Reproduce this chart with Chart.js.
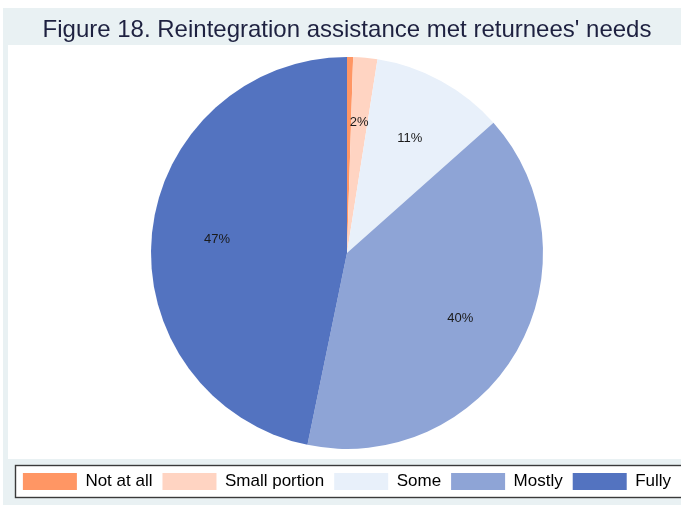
<!DOCTYPE html>
<html>
<head>
<meta charset="utf-8">
<script src="https://cdn.jsdelivr.net/npm/chart.js@4"></script>
<style>
  html, body { margin: 0; padding: 0; background: #fff; overflow: hidden; width: 681px; height: 505px; }
  #wrap { width: 720px; height: 505px; position: relative; }
</style>
</head>
<body>
<div id="wrap"><canvas id="chartCanvas"></canvas></div>
<script>
const categories = ['Not at all', 'Small portion', 'Some', 'Mostly', 'Fully'];
const shares = [0.5, 2, 11, 40, 47];
const sliceColors = ['#ff9664', '#ffd4c2', '#e8f0fa', '#8ea4d6', '#5373c0'];
const titleText = "Figure 18. Reintegration assistance met returnees' needs";

// panel backgrounds and the legend frame, drawn under everything else
const framePlugin = {
    id: 'frame',
    beforeDraw(chart) {
        const ctx = chart.ctx;
        const w = chart.width, h = chart.height;
        ctx.save();
        ctx.fillStyle = '#ffffff';
        ctx.fillRect(0, 0, w, h);
        ctx.fillStyle = '#e9f1f3';
        ctx.fillRect(3, 8, w, h - 8);
        ctx.fillStyle = '#ffffff';
        ctx.fillRect(8, 45, w, 414);
        ctx.fillRect(15.5, 465.5, w, 32);
        ctx.strokeStyle = '#3a3a3a';
        ctx.lineWidth = 1.4;
        ctx.strokeRect(15.5, 465.5, w, 32);
        ctx.restore();
    }
};

// percent labels placed at two thirds of the radius
const sliceLabels = {
    id: 'sliceLabels',
    afterDatasetsDraw(chart) {
        const ctx = chart.ctx;
        const meta = chart.getDatasetMeta(0);
        ctx.save();
        ctx.font = '13px "Liberation Sans", Arial, sans-serif';
        ctx.fillStyle = '#1a1a1a';
        ctx.textAlign = 'center';
        ctx.textBaseline = 'middle';
        meta.data.forEach((arc, i) => {
            const v = shares[i];
            if (v < 1) return;
            const p = arc.getProps(['x', 'y', 'startAngle', 'endAngle', 'outerRadius'], true);
            const mid = (p.startAngle + p.endAngle) / 2;
            const r = p.outerRadius * 0.667;
            ctx.fillText(v + '%', p.x + Math.cos(mid) * r, p.y + Math.sin(mid) * r);
        });
        ctx.restore();
    }
};

new Chart(document.getElementById('chartCanvas'), {
    type: 'pie',
    data: {
        labels: categories,
        datasets: [{
            data: shares,
            backgroundColor: sliceColors,
            borderWidth: 0,
            radius: 196
        }]
    },
    options: {
        responsive: true,
        maintainAspectRatio: false,
        animation: false,
        layout: { padding: { left: 0, right: 26, top: 0, bottom: 5 } },
        plugins: {
            tooltip: { enabled: false },
            title: {
                display: true,
                text: titleText,
                color: '#1e2140',
                font: { family: '"Liberation Sans", Arial, sans-serif', size: 24, weight: 'normal' },
                padding: { top: 16, bottom: -2 }
            },
            legend: {
                position: 'bottom',
                align: 'center',
                labels: {
                    boxWidth: 54,
                    boxHeight: 17,
                    padding: 10,
                    color: '#000',
                    font: { family: '"Liberation Sans", Arial, sans-serif', size: 17 }
                }
            }
        }
    },
    plugins: [framePlugin, sliceLabels]
});
</script>
</body>
</html>
